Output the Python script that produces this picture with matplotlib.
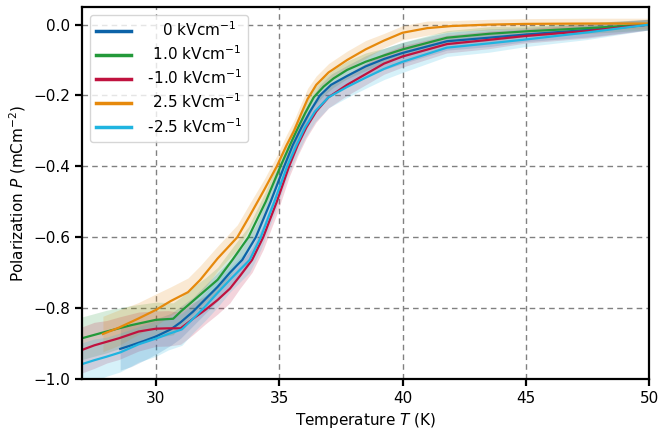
import numpy as np
import matplotlib.pyplot as plt

# ---- data ----
t_0 = [28.55, 29.0, 29.5, 30.0, 30.6, 31.0, 31.5, 32.0, 32.5, 33.0, 33.5, 34.05, 34.65, 35.2,
       35.55, 35.9, 36.25, 36.65, 37.1, 37.75, 38.5, 39.25, 40.0, 41.8, 43.5, 45.0, 47.5, 50.0]
p_0 = [-0.915, -0.905, -0.893, -0.88, -0.86, -0.84, -0.81, -0.775, -0.74, -0.70, -0.664, -0.60,
       -0.50, -0.40, -0.34, -0.29, -0.245, -0.20, -0.17, -0.145, -0.118, -0.097, -0.08, -0.047,
       -0.037, -0.028, -0.015, 0.0]
e_0 = [0.06, 0.06, 0.055, 0.05, 0.045, 0.045, 0.04, 0.04, 0.04, 0.035, 0.035, 0.035, 0.03, 0.03,
       0.03, 0.03, 0.03, 0.03, 0.03, 0.03, 0.03, 0.03, 0.03, 0.025, 0.025, 0.02, 0.02, 0.015]

t_p10 = [27.0, 28.0, 29.0, 30.0, 30.7, 31.0, 31.5, 32.0, 32.5, 33.1, 33.75, 34.45, 35.05, 35.4,
         35.7, 36.05, 36.4, 36.8, 37.2, 37.75, 38.5, 39.25, 40.0, 41.8, 43.5, 45.0, 47.5, 50.0]
p_p10 = [-0.885, -0.866, -0.848, -0.833, -0.83, -0.81, -0.78, -0.75, -0.72, -0.664, -0.60, -0.50,
         -0.40, -0.345, -0.30, -0.25, -0.205, -0.175, -0.152, -0.128, -0.105, -0.087, -0.07,
         -0.037, -0.026, -0.019, -0.01, 0.0]
e_p10 = [0.06, 0.06, 0.055, 0.05, 0.045, 0.04, 0.04, 0.035, 0.035, 0.035, 0.03, 0.03, 0.03, 0.03,
         0.03, 0.03, 0.025, 0.025, 0.025, 0.025, 0.025, 0.02, 0.02, 0.02, 0.02, 0.015, 0.015, 0.015]

t_m10 = [27.0, 27.5, 28.0, 28.5, 29.3, 30.0, 30.5, 31.0, 31.5, 32.0, 32.5, 33.0, 33.4, 33.9, 34.35,
         34.9, 35.4, 35.75, 36.1, 36.5, 37.0, 37.75, 38.5, 39.25, 40.0, 41.8, 43.5, 45.0, 47.5, 50.0]
p_m10 = [-0.918, -0.905, -0.895, -0.885, -0.866, -0.858, -0.857, -0.857, -0.83, -0.805, -0.777,
         -0.745, -0.71, -0.664, -0.60, -0.50, -0.40, -0.34, -0.29, -0.245, -0.205, -0.17, -0.14,
         -0.11, -0.09, -0.055, -0.043, -0.032, -0.018, 0.0]
e_m10 = [0.065, 0.065, 0.06, 0.06, 0.055, 0.05, 0.05, 0.045, 0.045, 0.04, 0.04, 0.04, 0.035, 0.035,
         0.035, 0.035, 0.03, 0.03, 0.03, 0.03, 0.03, 0.03, 0.03, 0.03, 0.03, 0.025, 0.025, 0.02,
         0.02, 0.015]

t_p25 = [27.85, 28.5, 29.27, 30.0, 30.6, 31.3, 31.8, 32.5, 33.3, 33.8, 34.4, 34.9, 35.3, 35.6,
         35.9, 36.15, 36.5, 37.0, 37.75, 38.5, 39.25, 40.0, 41.0, 42.0, 43.5, 45.0, 47.5, 50.0]
p_p25 = [-0.873, -0.855, -0.83, -0.805, -0.78, -0.755, -0.72, -0.66, -0.60, -0.54, -0.465, -0.40,
         -0.34, -0.30, -0.25, -0.21, -0.17, -0.135, -0.10, -0.07, -0.045, -0.023, -0.01, -0.004,
         0.0, 0.002, 0.003, 0.003]
e_p25 = [0.05, 0.05, 0.045, 0.045, 0.04, 0.04, 0.04, 0.035, 0.035, 0.035, 0.03, 0.03, 0.03, 0.03,
         0.03, 0.03, 0.025, 0.025, 0.025, 0.025, 0.02, 0.02, 0.02, 0.015, 0.015, 0.015, 0.015, 0.015]

t_m25 = [27.0, 27.5, 28.0, 28.55, 29.3, 30.0, 30.5, 31.05, 31.5, 32.0, 32.5, 33.0, 33.8, 34.25,
         34.8, 35.32, 35.7, 36.05, 36.45, 37.0, 37.75, 38.5, 39.25, 40.0, 41.8, 43.5, 45.0, 47.5, 50.0]
p_m25 = [-0.958, -0.947, -0.937, -0.925, -0.902, -0.886, -0.873, -0.86, -0.83, -0.795, -0.757,
         -0.72, -0.664, -0.60, -0.50, -0.40, -0.34, -0.29, -0.245, -0.205, -0.176, -0.15, -0.125,
         -0.105, -0.065, -0.053, -0.042, -0.022, 0.0]
e_m25 = [0.06, 0.06, 0.055, 0.055, 0.05, 0.05, 0.045, 0.045, 0.04, 0.04, 0.04, 0.035, 0.035, 0.035,
         0.035, 0.03, 0.03, 0.03, 0.03, 0.03, 0.03, 0.03, 0.03, 0.03, 0.025, 0.025, 0.02, 0.02, 0.015]

labels = ["    0 kVcm$^{-1}$", "  1.0 kVcm$^{-1}$", " -1.0 kVcm$^{-1}$",
          "  2.5 kVcm$^{-1}$", " -2.5 kVcm$^{-1}$"]
colours = ["#0c63a8", "#23993a", "#c0123f", "#e6890c", "#1fb4e0"]

series = [(t_0, p_0, e_0), (t_p10, p_p10, e_p10), (t_m10, p_m10, e_m10),
          (t_p25, p_p25, e_p25), (t_m25, p_m25, e_m25)]

fig, ax = plt.subplots(figsize=(6.61, 4.30), dpi=100)
fig.subplots_adjust(left=0.124, right=0.982, top=0.984, bottom=0.1186)

# shaded uncertainty bands first, lines on top
for (t, p, e), c in zip(series, colours):
    t, p, e = np.array(t), np.array(p), np.array(e)
    ax.fill_between(t, p - e, p + e, color=c, alpha=0.18, lw=0)
for (t, p, e), lab, c in zip(series, labels, colours):
    ax.plot(t, p, color=c, lw=1.6, label=lab)

ax.set_xlim(27, 50)
ax.set_ylim(-1.0, 0.05)
ax.set_xticks([30, 35, 40, 45, 50])
ax.set_yticks([0.0, -0.2, -0.4, -0.6, -0.8, -1.0])
ax.grid(True, color="#808080", linestyle=(0, (4, 3)), linewidth=1.0)
ax.set_axisbelow(True)

for s in ax.spines.values():
    s.set_linewidth(1.6)
    s.set_color("black")
ax.tick_params(direction="out", length=5, width=1.6, labelsize=11)

ax.set_xlabel("Temperature $T$ (K)", fontsize=11)
ax.set_ylabel("Polarization $P$ (mCm$^{-2}$)", fontsize=11)

leg = ax.legend(loc="upper left", fontsize=11, handlelength=2.3, labelspacing=0.35,
                framealpha=0.8)
for line in leg.get_lines():
    line.set_linewidth(2.5)

fig.savefig("out.png", dpi=100)
